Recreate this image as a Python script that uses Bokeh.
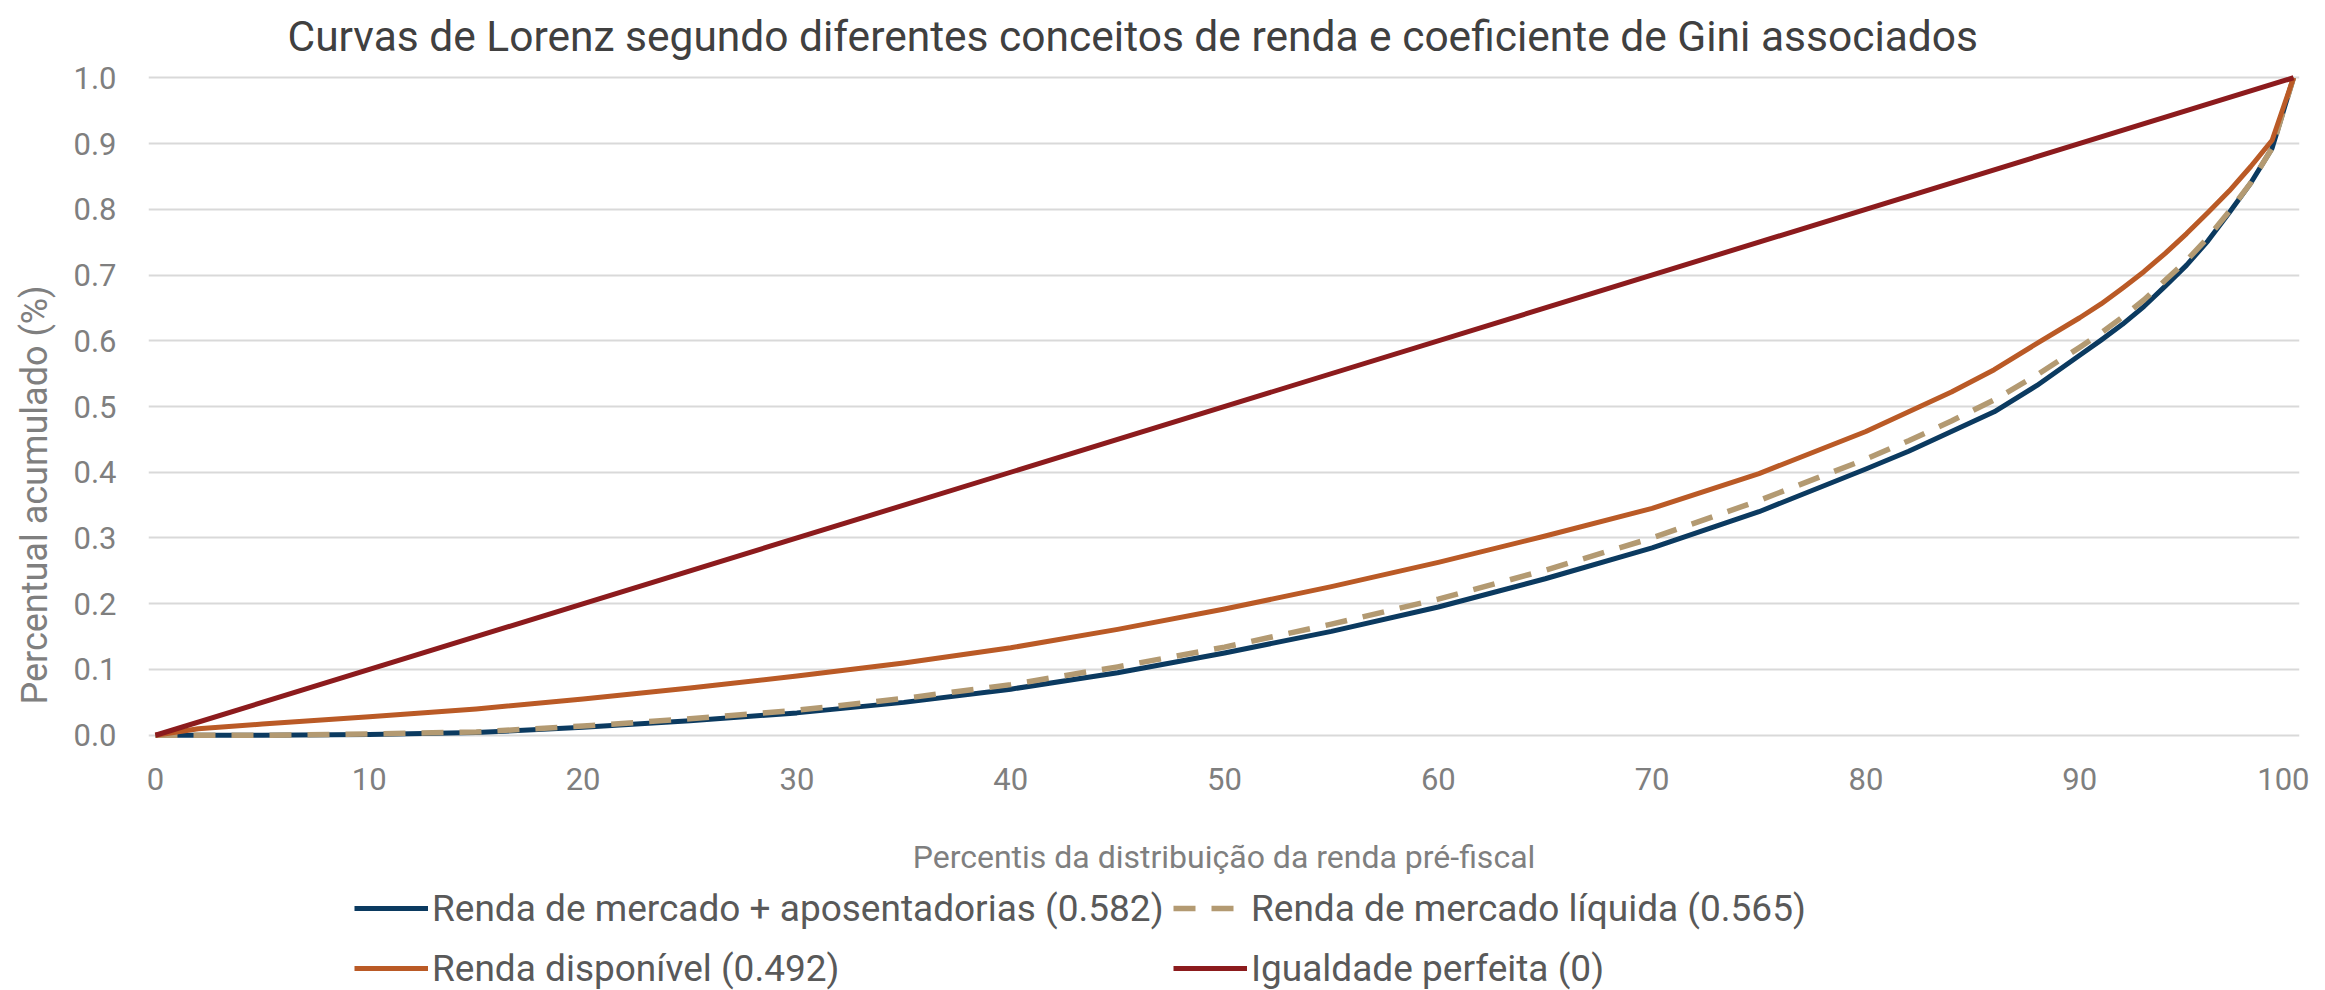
from bokeh.plotting import figure
from bokeh.layouts import column
from bokeh.models import Range1d, Legend, LegendItem, Title, FixedTicker, NumeralTickFormatter
from bokeh.embed import file_html
from bokeh.resources import INLINE

# ---- data ----
percentis = [0, 2, 5, 10, 15, 20, 25, 30, 35, 40, 45, 50, 55, 60, 65, 70, 75,
             80, 82, 84, 86, 88, 90, 91, 92, 93, 94, 95, 96, 97, 98, 99, 100]
renda_mercado_apos = [0, 0, 0, 0.001, 0.004, 0.012, 0.022, 0.034, 0.05, 0.07, 0.095, 0.125, 0.158, 0.195, 0.238,
                      0.285, 0.34,
                      0.405, 0.432, 0.462, 0.492, 0.532, 0.578, 0.601, 0.625, 0.652, 0.683, 0.715, 0.752, 0.795,
                      0.84, 0.893, 1.0]
renda_mercado_liq = [0, 0, 0, 0.002, 0.005, 0.014, 0.025, 0.038, 0.056, 0.077, 0.104, 0.134, 0.169, 0.207, 0.251,
                     0.3, 0.357,
                     0.42, 0.448, 0.478, 0.51, 0.548, 0.59, 0.612, 0.636, 0.662, 0.692, 0.722, 0.757, 0.797,
                     0.84, 0.893, 1.0]
renda_disponivel = [0, 0.01, 0.017, 0.028, 0.04, 0.055, 0.072, 0.09, 0.11, 0.133, 0.161, 0.192, 0.226, 0.263, 0.303,
                    0.345, 0.398,
                    0.462, 0.492, 0.522, 0.556, 0.596, 0.635, 0.656, 0.68, 0.705, 0.733, 0.763, 0.795, 0.828,
                    0.865, 0.905, 1.0]
igualdade_x = [0, 100]
igualdade_y = [0.0, 1.0]

serie_nomes = ["Renda de mercado + aposentadorias (0.582)", "Renda de mercado líquida (0.565)",
               "Renda disponível (0.492)", "Igualdade perfeita (0)"]
x_ticks = [0, 10, 20, 30, 40, 50, 60, 70, 80, 90, 100]
y_ticks = [0.0, 0.1, 0.2, 0.3, 0.4, 0.5, 0.6, 0.7, 0.8, 0.9, 1.0]

titulo = "Curvas de Lorenz segundo diferentes conceitos de renda e coeficiente de Gini associados"
x_titulo = "Percentis da distribuição da renda pré-fiscal"
y_titulo = "Percentual acumulado (%)"

# ---- style ----
FONT = "Roboto"
C_BLUE = "#0B3A60"
C_TAN = "#B39A72"
C_ORANGE = "#BA5A26"
C_RED = "#8C1B1D"
STYLES = [dict(line_color=C_BLUE, line_width=5, line_join="round"),
          dict(line_color=C_TAN, line_width=5.5, line_dash="22 16", line_join="round"),
          dict(line_color=C_ORANGE, line_width=5, line_join="round"),
          dict(line_color=C_RED, line_width=5, line_join="round")]
SERIES = [(percentis, renda_mercado_apos), (percentis, renda_mercado_liq),
          (percentis, renda_disponivel), (igualdade_x, igualdade_y)]

W = 2309
p = figure(width=W, height=886, x_range=Range1d(-0.327, 100.28), y_range=Range1d(-0.008, 1.008),
           output_backend="svg", toolbar_location=None,
           min_border_left=147, min_border_right=10, min_border_top=72, min_border_bottom=146)
p.outline_line_color = None
p.background_fill_color = "white"
p.border_fill_color = "white"
p.xgrid.grid_line_color = None
p.ygrid.grid_line_color = "#D9D9D9"
p.ygrid.grid_line_width = 2

# main title
p.title.text = titulo
p.title.align = "left"
p.title.offset = 139
p.title.standoff = 20
p.title.vertical_align = "top"
p.title.text_font = FONT
p.title.text_font_size = "42.5px"
p.title.text_font_style = "normal"
p.title.text_color = "#404040"

p.xaxis.ticker = FixedTicker(ticks=x_ticks)
p.yaxis.ticker = FixedTicker(ticks=y_ticks)
p.yaxis.formatter = NumeralTickFormatter(format="0.0")
p.xaxis.formatter = NumeralTickFormatter(format="0")
for ax in (p.xaxis, p.yaxis):
    ax.axis_line_color = None
    ax.major_tick_line_color = None
    ax.minor_tick_line_color = None
    ax.major_tick_out = 0
    ax.major_tick_in = 0
    ax.major_label_text_font = FONT
    ax.major_label_text_font_size = "31px"
    ax.major_label_text_color = "#7F7F7F"
p.xaxis.major_label_standoff = 27
p.yaxis.major_label_standoff = 32
p.xaxis.axis_label = x_titulo
p.xaxis.axis_label_text_font = FONT
p.xaxis.axis_label_text_font_size = "32px"
p.xaxis.axis_label_text_font_style = "normal"
p.xaxis.axis_label_text_color = "#7F7F7F"
p.xaxis.axis_label_standoff = 45

# y title placed in a left panel (off-centre like the reference)
p.add_layout(Title(text=y_titulo, align="left", offset=36, standoff=26, vertical_align="top",
                   text_font=FONT, text_font_size="36px", text_font_style="normal",
                   text_color="#7F7F7F"), "left")

for (xs, ys), st in zip(SERIES, STYLES):
    p.line(xs, ys, **st)

# ---- legend strip below (its ranges keep the proxy lines out of view) ----
pl = figure(width=W, height=104, x_range=Range1d(-2, -1), y_range=Range1d(0, 1),
            output_backend="svg", toolbar_location=None, x_axis_type=None, y_axis_type=None,
            min_border=0, min_border_left=0, min_border_right=0, min_border_top=0, min_border_bottom=0)
pl.outline_line_color = None
pl.xgrid.visible = False
pl.ygrid.visible = False
pl.border_fill_color = "white"
proxies = [pl.line(xs, ys, **st) for (xs, ys), st in zip(SERIES, STYLES)]


def make_legend(idx, x):
    return Legend(items=[LegendItem(label=serie_nomes[i], renderers=[proxies[i]]) for i in idx],
                  location=(x, 0), orientation="vertical",
                  padding=0, spacing=16, margin=0, label_standoff=4,
                  glyph_width=74, glyph_height=44, label_height=44,
                  label_text_font=FONT, label_text_font_size="37px", label_text_color="#595959",
                  border_line_color=None, background_fill_alpha=0)


pl.add_layout(make_legend([0, 2], 206))
pl.add_layout(make_legend([1, 3], 1025))

layout = column(p, pl, spacing=0)
open("out.html", "w").write(file_html(layout, INLINE))
